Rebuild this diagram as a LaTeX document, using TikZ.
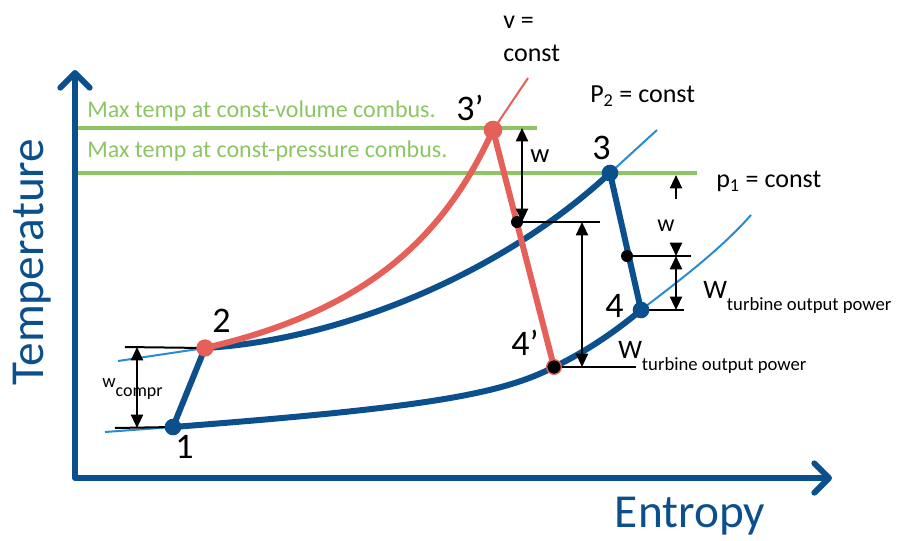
\documentclass[tikz,border=0pt]{standalone}
\usepackage{xcolor}
\usepackage{fontspec}
\setmainfont{Carlito}
\usepackage{tikz}
\usetikzlibrary{arrows.meta, calc}

\definecolor{tsblue}{RGB}{11,80,140}
\definecolor{isoblue}{RGB}{40,140,210}
\definecolor{cycred}{RGB}{230,96,90}
\definecolor{maxgreen}{RGB}{140,198,100}

\newcommand{\fsz}[1]{\fontsize{#1}{#1}\selectfont}

\begin{document}
\begin{tikzpicture}[
    x=0.75pt, y=-0.75pt,
    axis/.style={line width=4.5pt, tsblue, line join=round, {Straight Barb[length=11pt,width=22pt,round]}-{Straight Barb[length=11pt,width=22pt,round]}},
    isothin/.style={line width=1.5pt, isoblue},
    isothick/.style={line width=4.5pt, tsblue},
    redthin/.style={line width=1.5pt, cycred},
    redthick/.style={line width=4.5pt, cycred},
    maxline/.style={line width=2.4pt, maxgreen},
    level/.style={line width=1.5pt, black},
    dim/.style={line width=1.5pt, {Triangle[length=10pt,width=9pt]}-{Triangle[length=10pt,width=9pt]}},
    dimup/.style={line width=1.5pt, -{Triangle[length=10pt,width=9pt]}},
    state/.style={circle, inner sep=0pt, minimum size=12.5pt, fill=tsblue},
    blackdot/.style={circle, inner sep=0pt, minimum size=9pt, fill=black},
    ptlabel/.style={anchor=base west, inner sep=0pt, font=\fsz{27}},
    txt/.style={anchor=base west, inner sep=0pt, font=\fsz{19.5}},
    maxtext/.style={anchor=base west, inner sep=0pt, font=\fsz{18}, text=maxgreen},
    axtext/.style={inner sep=0pt, font=\fsz{35.5}, text=tsblue}
]
\useasboundingbox (0,0) rectangle (897,540);

% State points
\coordinate (c1) at (173,427);
\coordinate (c2) at (205,348);
\coordinate (c3) at (610,173);
\coordinate (c3r) at (493,130);
\coordinate (c4) at (641,310);
\coordinate (c4r) at (554,367);
\coordinate (mid3r) at (517,222);
\coordinate (mid3) at (627,256);

% Max temperature lines
\draw[maxline] (72,128) coordinate (gv0) -- (537,128) coordinate (gv1);
\draw[maxline] (75,173) coordinate (gp0) -- (697,173) coordinate (gp1);
\node[maxtext] (maxv) at (87,117) {Max temp at const-volume combus.};
\node[maxtext] (maxp) at (87,157) {Max temp at const-pressure combus.};

% Axes
\draw[axis] (75,70) -- (75,478) -- (832,478);
\node[axtext, rotate=90] (tlab) at (32,262) {Temperature};
\node[axtext, anchor=base] (slab) at (690,527) {Entropy};

% Isobars
\draw[isothin] (105,432) coordinate (lo0) -- (c1);
\draw[isothin] (c4) .. controls (680,280) and (720,250) .. (751,215) coordinate (lo1);
\draw[isothin] (118,361) coordinate (hi0) -- (c2);
\draw[isothin] (c3) -- (657,130) coordinate (hi1);
\draw[isothick] (c1) .. controls (420,408) and (500,395) .. (c4r)
    .. controls (585,352) and (615,332) .. (c4);
\draw[isothick] (c2) .. controls (340,340) and (500,275) .. (c3);

% v = const
\draw[redthin] (c3r) -- (528,78) coordinate (vc1);
\draw[redthick] (c2) .. controls (370,310) and (445,235) .. (c3r);

% Compression and expansion
\draw[isothick] (c1) -- (c2);
\draw[isothick] (c3) -- (c4);
\draw[redthick] (c3r) -- (c4r);

% Levels
\draw[level] (mid3r) -- (600,222);
\draw[level] (mid3) -- (691,256);
\draw[level] (c4) -- (684,310);
\draw[level] (c4r) -- (636,367);
\draw[level] (125,347) -- (c2);
\draw[level] (115,428) -- (c1);

% Dots
\node[state] (d1) at (c1) {};
\node[state, fill=cycred, minimum size=13pt] (d2) at (c2) {};
\node[state] (d3) at (c3) {};
\node[state, fill=cycred, minimum size=14pt] (d3r) at (c3r) {};
\node[state] (d4) at (c4) {};
\node[state, fill=black, draw=cycred, line width=1pt, minimum size=11pt] (d4r) at (c4r) {};
\node[blackdot] (m3r) at (mid3r) {};
\node[blackdot] (m3) at (mid3) {};

% Arrows
\draw[dim] (522,128) -- (522,222);
\draw[dim] (582,222) -- (582,367);
\draw[dimup] (676,199) -- (676,175);
\draw[dimup] (676,243) -- (676,256);
\draw[dim] (676,256) -- (676,310);
\draw[dim] (137,347) -- (137,428);

% Labels
\node[ptlabel] (l1) at (175,458) {1};
\node[ptlabel] (l2) at (212,332) {2};
\node[ptlabel] (l3) at (592,159) {3};
\node[ptlabel] (l3r) at (456,120) {3’};
\node[ptlabel] (l4) at (605,317) {4};
\node[ptlabel] (l4r) at (511,355) {4’};

\node[txt] (vtop) at (503,28) {v =};
\node[txt] (vbot) at (503,61) {const};
\node[txt] (ptwo) at (590,102) {P\textsubscript{2} = const};
\node[txt] (pone) at (716,187) {p\textsubscript{1} = const};
\node[txt, font=\fsz{20}] (wtop) at (530,162) {w};
\node[txt, font=\fsz{18}] (wlow) at (657,231) {w};
\node[txt] (wt4) at (703,298) {{\fsz{20}W}\raisebox{-9pt}{\fsz{14}turbine output power}};
\node[txt] (wt4r) at (618,358) {{\fsz{20}W}\raisebox{-9pt}{\fsz{14}turbine output power}};
\node[txt] (wcomp) at (102,387) {{\fsz{14}w}\raisebox{-7pt}{\fsz{13.5}compr}};

\end{tikzpicture}
\end{document}
